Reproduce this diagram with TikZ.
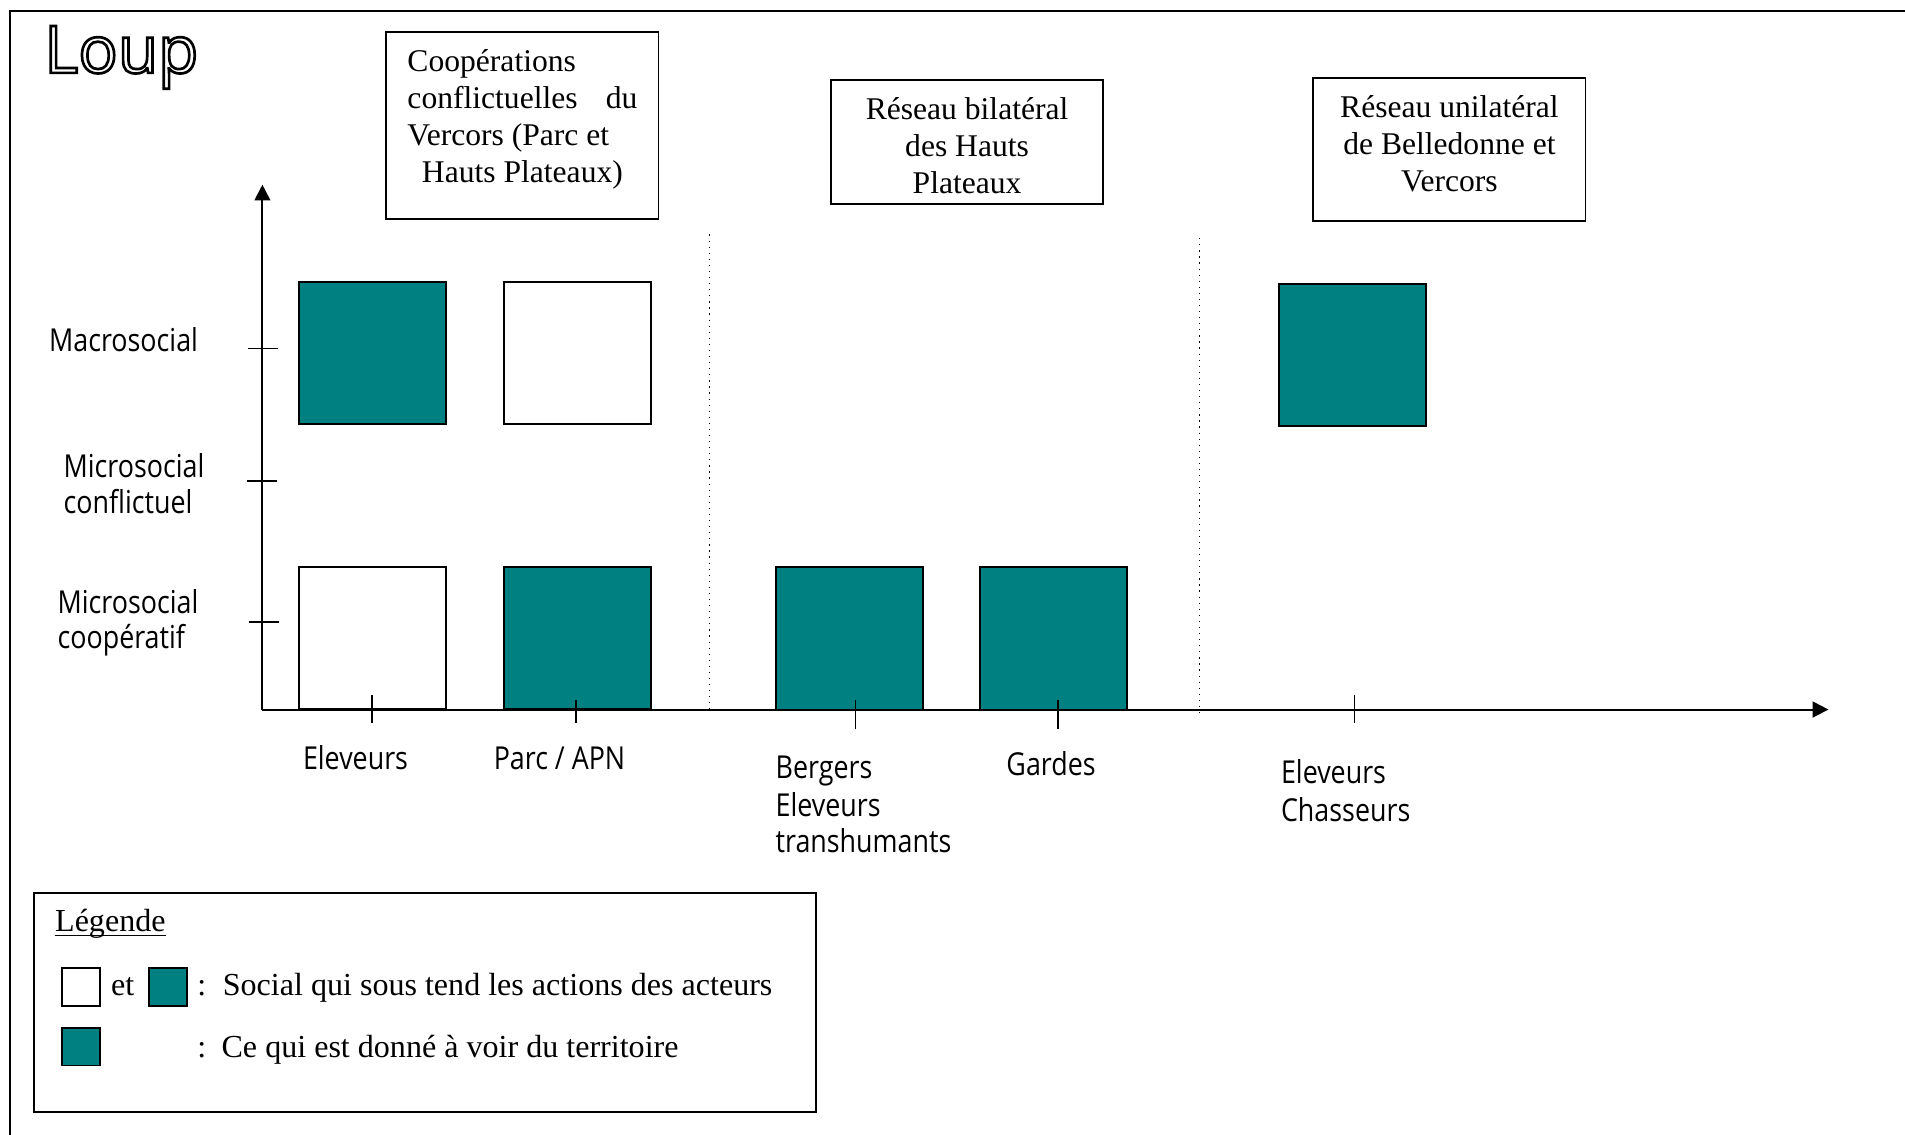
\documentclass[tikz,border=0pt]{standalone}
\usepackage{fontspec}
\setmainfont{Liberation Serif}
\newfontfamily\comic[FakeStretch=0.85]{Open Sans}
\newfontfamily\comicwide{Open Sans}
\usetikzlibrary{arrows.meta}
\definecolor{tealfill}{RGB}{0,128,128}
\newcommand{\outlinetext}[1]{\special{pdf:literal direct 1 Tr 1.1 w}#1\special{pdf:literal direct 0 Tr}}
\tikzset{
  lbl/.style={font=\comic\fontsize{13}{15}\selectfont, inner sep=0pt, anchor=base west},
  serif/.style={font=\fontsize{13}{15}\selectfont, inner sep=0pt, anchor=base},
  serifw/.style={font=\fontsize{13}{15}\selectfont, inner sep=0pt, anchor=base west},
  legw/.style={font=\fontsize{13.2}{15}\selectfont, inner sep=0pt, anchor=base west},
  sq/.style={draw, line width=0.8pt, inner sep=0pt, minimum width=60.5pt, minimum height=58.5pt},
  tbox/.style={sq, fill=tealfill},
  wbox/.style={sq, fill=white},
  hdr/.style={draw, line width=0.8pt, inner sep=0pt},
  lsq/.style={draw, line width=0.8pt, inner sep=0pt, minimum width=15.5pt, minimum height=15.5pt},
  axisline/.style={line width=0.8pt, -{Triangle[length=6.5pt,width=6.5pt]}},
  tickline/.style={line width=0.6pt},
  sepline/.style={dotted, line width=0.5pt},
}
\begin{document}
\begin{tikzpicture}[x=0.5pt,y=-0.5pt]
\useasboundingbox (0,0) rectangle (1568,934);
% outer frame (open at right and bottom)
\draw[line width=0.8pt] (8,945) -- (8,9) -- (1580,9);
% title
\node[font=\comicwide\fontsize{27}{30}\selectfont, anchor=base west, inner sep=0pt] (title) at (36,60) {\outlinetext{Loup}};

% header boxes
\node[hdr, minimum width=112pt, minimum height=77pt] (h1) at (430,103) {};
\node[serifw] (h1a) at (335,59) {Coopérations};
\node[serifw] (h1b) at (335,89) {conflictuelles};
\node[serif, anchor=base east] (h1c) at (525,89) {du};
\node[serifw] (h1d) at (335,120) {Vercors (Parc et};
\node[serif] (h1e) at (430,150) {Hauts Plateaux)};

\node[hdr, minimum width=112pt, minimum height=51pt] (h2) at (796,117) {};
\node[serif] (h2a) at (796,98) {Réseau bilatéral};
\node[serif] (h2b) at (796,129) {des Hauts};
\node[serif] (h2c) at (796,159) {Plateaux};

\node[hdr, minimum width=112pt, minimum height=59pt] (h3) at (1193,123) {};
\node[serif] (h3a) at (1193,97) {Réseau unilatéral};
\node[serif] (h3b) at (1193,127) {de Belledonne et};
\node[serif] (h3c) at (1193,158) {Vercors};

% axes
\coordinate (O) at (216,584);
\coordinate (ytop) at (216,152);
\coordinate (xend) at (1505,584);
\draw[axisline] (O) -- (ytop);
\draw[axisline] (O) -- (xend);

% separators
\coordinate (s1a) at (584,193);
\coordinate (s1b) at (584,584);
\coordinate (s2a) at (987,196);
\coordinate (s2b) at (987,587);
\draw[sepline] (s1a) -- (s1b);
\draw[sepline] (s2a) -- (s2b);

% squares
\node[tbox] (a1) at (306.5,290.5) {};
\node[wbox] (a2) at (475.5,290.5) {};
\node[wbox] (b1) at (306.5,525) {};
\node[tbox] (b2) at (475.5,525) {};
\node[tbox] (c1) at (699.5,525.5) {};
\node[tbox] (c2) at (867.5,525.5) {};
\node[tbox] (d1) at (1113.5,292.5) {};

% y ticks
\draw[tickline] (204,287) -- (229,287);
\draw[tickline] (203,396) -- (228,396);
\draw[tickline] (205,512) -- (230,512);
% x ticks
\draw[tickline] (306,572) -- (306,595);
\draw[tickline] (474,576) -- (474,595);
\draw[tickline] (704,576) -- (704,600);
\draw[tickline] (871,576) -- (871,600);
\draw[tickline] (1115,572) -- (1115,595);

% y labels
\node[lbl] (ly1) at (40,289) {Macrosocial};
\node[lbl] (ly2a) at (52,393) {Microsocial};
\node[lbl] (ly2b) at (52,423) {conflictuel};
\node[lbl] (ly3a) at (47,505) {Microsocial};
\node[lbl] (ly3b) at (47,534) {coopératif};

% x labels
\node[lbl] (lx1) at (249,633) {Eleveurs};
\node[lbl] (lx2) at (406,633) {Parc / APN};
\node[lbl] (lx3a) at (638,641) {Bergers};
\node[lbl] (lx3b) at (638,672) {Eleveurs};
\node[lbl] (lx3c) at (638,702) {transhumants};
\node[lbl] (lx4) at (828,638) {Gardes};
\node[lbl] (lx5a) at (1054,645) {Eleveurs};
\node[lbl] (lx5b) at (1054,676) {Chasseurs};

% legend
\node[hdr, minimum width=322pt, minimum height=90pt] (leg) at (350,825) {};
\node[legw] (legt) at (45,767) {Légende};
\draw[line width=0.6pt] ([yshift=-1.6pt]legt.base west) -- ([yshift=-1.6pt]legt.base east);
\node[lsq, fill=white] (lw) at (66.5,812.5) {};
\node[legw] (let) at (91,819) {et};
\node[lsq, fill=tealfill] (lt1) at (138.5,812.5) {};
\node[legw] (lc1) at (162,819) {:};
\node[legw] (ltx1) at (183,819) {Social qui sous tend les actions des acteurs};
\node[lsq, fill=tealfill] (lt2) at (66.5,861.5) {};
\node[legw] (lc2) at (162,870) {:};
\node[legw] (ltx2) at (182,870) {Ce qui est donné à voir du territoire};
\end{tikzpicture}
\end{document}
